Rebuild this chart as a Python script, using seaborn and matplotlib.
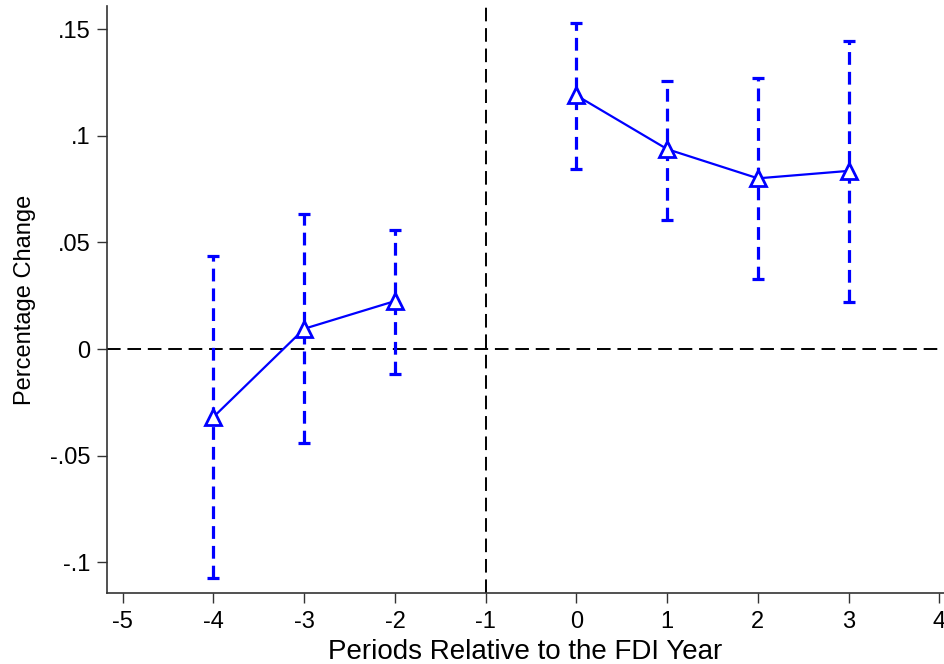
import pandas as pd
import numpy as np
import matplotlib
matplotlib.use('Agg')
import matplotlib.pyplot as plt
import seaborn as sns

# Event-study estimates
periods = [-4, -3, -2, 0, 1, 2, 3]
coef = [-0.0319, 0.0095, 0.0225, 0.119, 0.0938, 0.0801, 0.0836]
ci_low = [-0.1077, -0.0443, -0.0116, 0.0847, 0.0607, 0.0327, 0.0222]
ci_high = [0.0435, 0.0632, 0.0559, 0.153, 0.126, 0.1274, 0.1446]
phase = ['pre', 'pre', 'pre', 'post', 'post', 'post', 'post']

x_ticks = [-5, -4, -3, -2, -1, 0, 1, 2, 3, 4]
y_ticks = [-0.1, -0.05, 0, 0.05, 0.1, 0.15]
y_tick_labels = ['-.1', '-.05', '0', '.05', '.1', '.15']

df = pd.DataFrame({'period': periods, 'coef': coef, 'lo': ci_low, 'hi': ci_high, 'phase': phase})

sns.set_style('ticks')
plt.rcParams['font.family'] = ['Liberation Sans', 'DejaVu Sans']
plt.rcParams['axes.unicode_minus'] = False
plt.rcParams['text.color'] = 'black'
plt.rcParams['axes.labelcolor'] = 'black'
plt.rcParams['xtick.color'] = 'black'
plt.rcParams['ytick.color'] = 'black'

fig = plt.figure(figsize=(9.44, 6.64), dpi=100)
ax = fig.add_axes([0.1133, 0.107, 0.887, 0.884])

# reference lines
ax.axhline(0, color='black', lw=1.4, ls=(0, (7, 3.5)), zorder=1)
ax.axvline(-1, color='black', lw=1.4, ls=(0, (7, 3.5)), zorder=1)

# confidence intervals, dashed
eb = ax.errorbar(df['period'], df['coef'],
                 yerr=[df['coef'] - df['lo'], df['hi'] - df['coef']],
                 fmt='none', ecolor='blue', elinewidth=2.3, capsize=4.5, capthick=2.3, zorder=2)
for lc in eb[2]:
    lc.set_linestyle((0, (4, 2.2)))

# point estimates connected within each phase
sns.lineplot(data=df, x='period', y='coef', units='phase', estimator=None, ax=ax,
             color='blue', lw=1.6, marker='^', markersize=11, markerfacecolor='white',
             markeredgecolor='blue', markeredgewidth=2, zorder=3)

ax.set_xlim(-5.174, 4.054)
ax.set_ylim(-0.1145, 0.161)
ax.set_xticks(x_ticks)
ax.set_yticks(y_ticks)
ax.set_yticklabels(y_tick_labels)
ax.tick_params(axis='both', labelsize=17, length=7, width=1, color='#333333', labelcolor='black', pad=5)
ax.tick_params(axis='x', pad=6)

ax.set_xlabel('Periods Relative to the FDI Year', fontsize=20, labelpad=4)
ax.set_ylabel('Percentage Change', fontsize=17, labelpad=10)

sns.despine(ax=ax)
for s in ['left', 'bottom']:
    ax.spines[s].set_linewidth(1.2)
    ax.spines[s].set_color('#333333')

fig.savefig('out.png', dpi=100)
